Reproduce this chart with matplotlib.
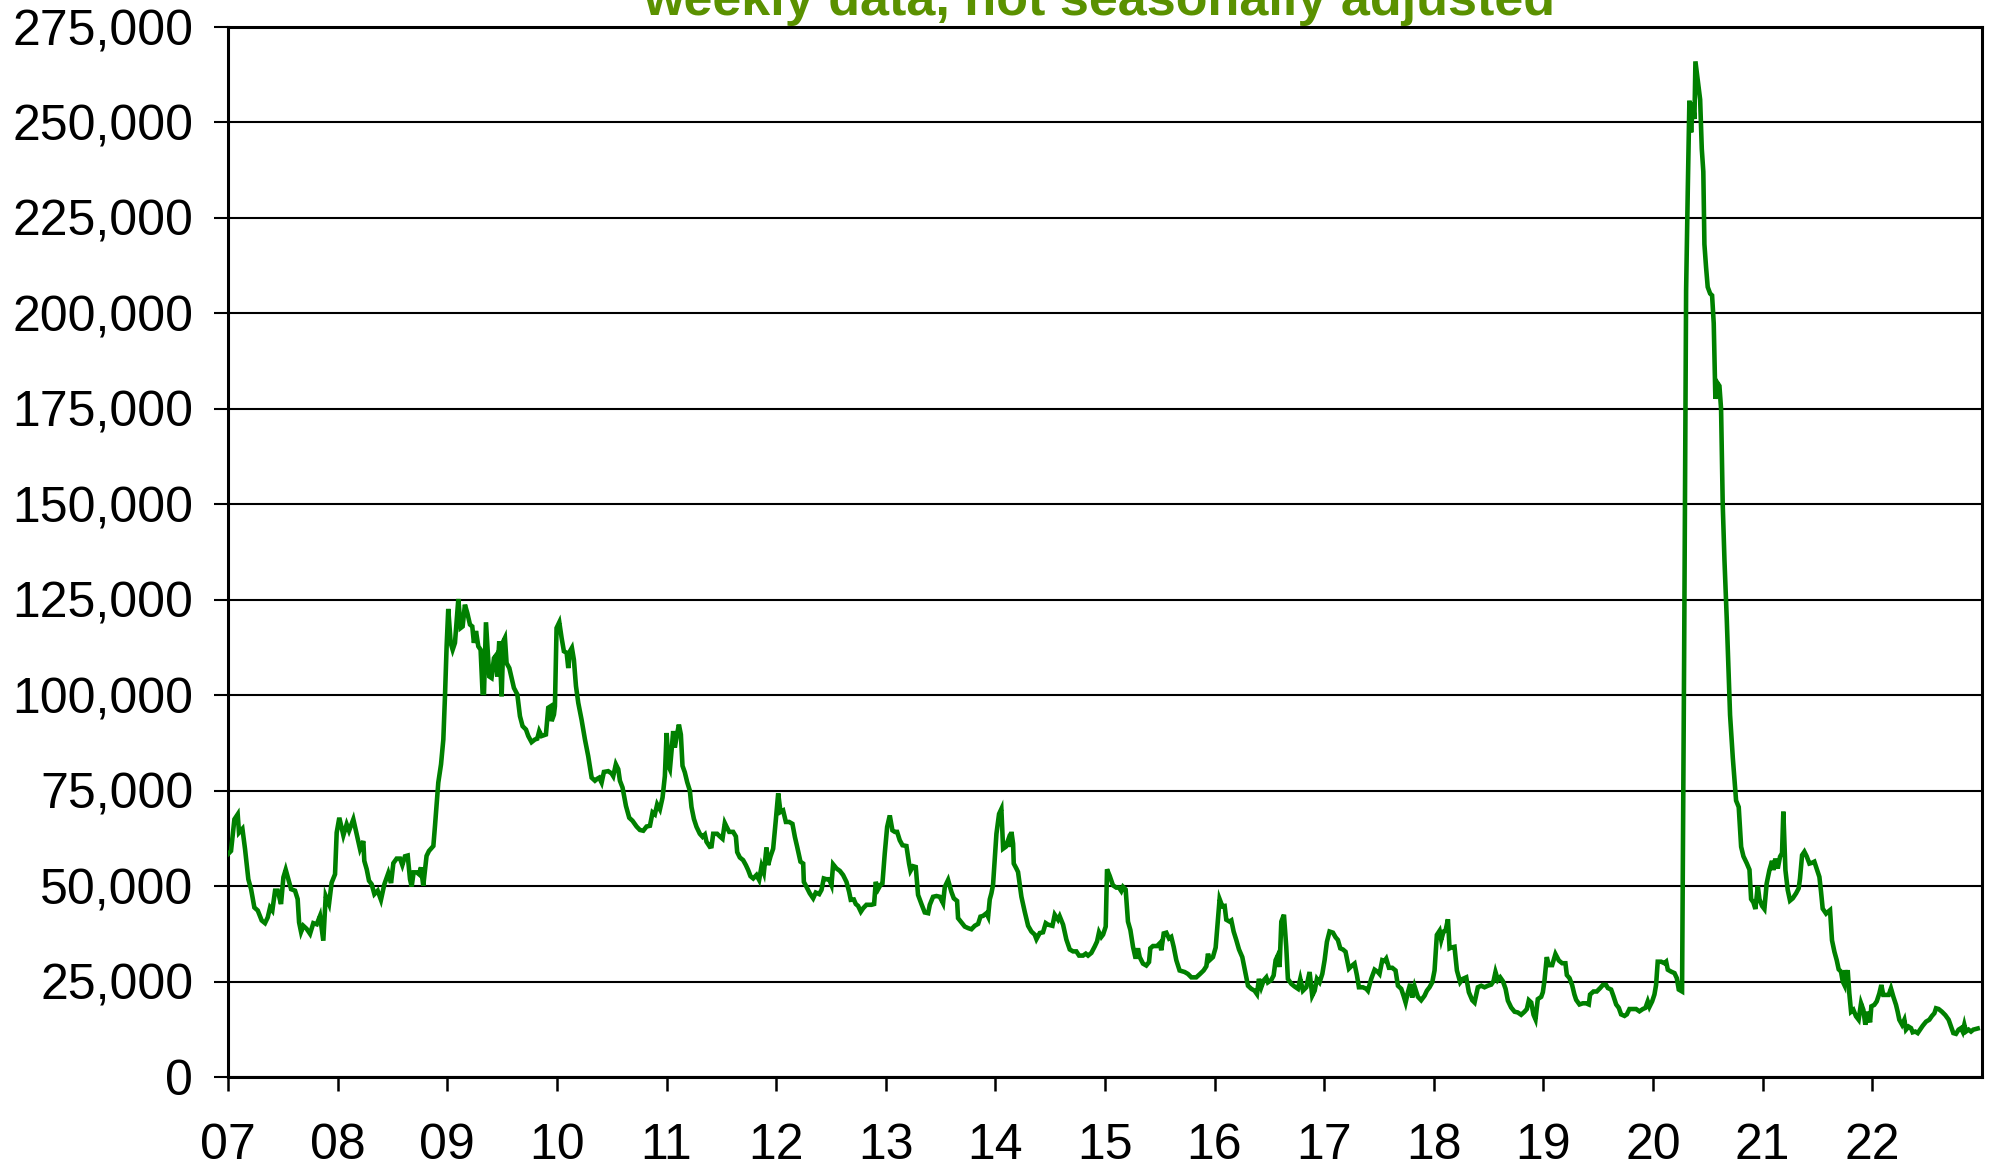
import matplotlib
matplotlib.use("Agg")
import matplotlib.pyplot as plt
from matplotlib.ticker import FuncFormatter, FixedLocator
import numpy as np

plt.rcParams['font.family'] = ['Liberation Sans', 'DejaVu Sans']

title = "weekly data, not seasonally adjusted"

# decimal year of each reading
years = [
    2007.000, 2007.027, 2007.058, 2007.088, 2007.100, 2007.131, 2007.155, 2007.185, 2007.210, 2007.240,
    2007.271, 2007.307, 2007.337, 2007.362, 2007.383, 2007.404, 2007.429, 2007.453, 2007.483, 2007.505,
    2007.526, 2007.550, 2007.575, 2007.611, 2007.635, 2007.648, 2007.666, 2007.687, 2007.717, 2007.748,
    2007.778, 2007.809, 2007.839, 2007.869, 2007.891, 2007.921, 2007.945, 2007.976, 2007.991, 2008.015,
    2008.052, 2008.082, 2008.104, 2008.143, 2008.173, 2008.204, 2008.234, 2008.243, 2008.265, 2008.286,
    2008.310, 2008.335, 2008.365, 2008.395, 2008.426, 2008.462, 2008.487, 2008.508, 2008.538, 2008.569,
    2008.590, 2008.614, 2008.639, 2008.660, 2008.675, 2008.693, 2008.721, 2008.742, 2008.760, 2008.781,
    2008.811, 2008.833, 2008.873, 2008.888, 2008.918, 2008.943, 2008.964, 2008.979, 2008.994, 2009.009,
    # 2009-2010
    2009.031, 2009.049, 2009.070, 2009.101, 2009.122, 2009.140, 2009.161, 2009.183, 2009.207, 2009.228,
    2009.243, 2009.262, 2009.283, 2009.304, 2009.322, 2009.335, 2009.353, 2009.383, 2009.404, 2009.426,
    2009.444, 2009.456, 2009.474, 2009.487, 2009.496, 2009.511, 2009.526, 2009.541, 2009.566, 2009.587,
    2009.608, 2009.639, 2009.663, 2009.687, 2009.718, 2009.739, 2009.769, 2009.800, 2009.821, 2009.839,
    2009.861, 2009.900, 2009.921, 2009.943, 2009.952, 2009.973, 2009.982, 2009.997, 2010.022, 2010.043,
    2010.064, 2010.089, 2010.104, 2010.119, 2010.137, 2010.155, 2010.174, 2010.195, 2010.225, 2010.256,
    2010.286, 2010.317, 2010.347, 2010.368, 2010.386, 2010.408, 2010.429, 2010.468, 2010.499, 2010.514,
    2010.538, 2010.560, 2010.575, 2010.599, 2010.630, 2010.660, 2010.690, 2010.727, 2010.757, 2010.788,
    2010.818, 2010.849, 2010.873, 2010.894, 2010.915, 2010.940, 2010.964, 2010.985, 2011.001, 2011.019,
    # 2011-2014
    2011.031, 2011.046, 2011.061, 2011.076, 2011.091, 2011.113, 2011.131, 2011.146, 2011.167, 2011.189,
    2011.213, 2011.228, 2011.250, 2011.274, 2011.304, 2011.329, 2011.350, 2011.365, 2011.395, 2011.411,
    2011.426, 2011.462, 2011.487, 2011.511, 2011.532, 2011.547, 2011.572, 2011.608, 2011.633, 2011.645,
    2011.669, 2011.699, 2011.724, 2011.745, 2011.766, 2011.791, 2011.821, 2011.845, 2011.867, 2011.888,
    2011.912, 2011.927, 2011.949, 2011.973, 2011.997, 2012.019, 2012.040, 2012.064, 2012.089, 2012.119,
    2012.149, 2012.171, 2012.192, 2012.222, 2012.247, 2012.253, 2012.277, 2012.307, 2012.338, 2012.362,
    2012.393, 2012.414, 2012.435, 2012.459, 2012.484, 2012.505, 2012.520, 2012.551, 2012.581, 2012.611,
    2012.642, 2012.666, 2012.681, 2012.709, 2012.727, 2012.748, 2012.773, 2012.794, 2012.824, 2012.870,
    2012.894, 2012.909, 2012.931, 2012.952, 2012.970, 2012.991, 2013.013, 2013.037, 2013.061, 2013.083,
    2013.104, 2013.128, 2013.153, 2013.189, 2013.213, 2013.226, 2013.250, 2013.274, 2013.295, 2013.326,
    2013.356, 2013.387, 2013.402, 2013.432, 2013.463, 2013.493, 2013.523, 2013.539, 2013.569, 2013.599,
    2013.621, 2013.651, 2013.660, 2013.691, 2013.721, 2013.751, 2013.782, 2013.812, 2013.843, 2013.864,
    2013.888, 2013.919, 2013.934, 2013.949, 2013.964, 2013.979, 2014.010, 2014.034, 2014.055, 2014.071,
    2014.095, 2014.116, 2014.131, 2014.147, 2014.162, 2014.168, 2014.192, 2014.207, 2014.238, 2014.268,
    2014.299, 2014.329, 2014.359, 2014.375, 2014.405, 2014.435, 2014.460, 2014.481, 2014.521, 2014.542,
    2014.572, 2014.587, 2014.618, 2014.648, 2014.679, 2014.709, 2014.739, 2014.764, 2014.800, 2014.825,
    2014.846, 2014.876, 2014.907, 2014.928, 2014.946, 2014.967, 2014.983, 2015.007, 2015.019,
    # 2015-2018
    2015.043, 2015.073, 2015.104, 2015.128, 2015.149, 2015.165, 2015.189, 2015.210, 2015.232, 2015.256,
    2015.280, 2015.301, 2015.317, 2015.347, 2015.377, 2015.402, 2015.414, 2015.438, 2015.475, 2015.499,
    2015.514, 2015.536, 2015.560, 2015.584, 2015.605, 2015.627, 2015.651, 2015.681, 2015.727, 2015.757,
    2015.788, 2015.833, 2015.864, 2015.900, 2015.925, 2015.940, 2015.955, 2015.985, 2016.010, 2016.031,
    2016.046, 2016.071, 2016.092, 2016.107, 2016.137, 2016.153, 2016.174, 2016.198, 2016.223, 2016.253,
    2016.274, 2016.305, 2016.335, 2016.365, 2016.387, 2016.405, 2016.426, 2016.448, 2016.472, 2016.487,
    2016.517, 2016.539, 2016.557, 2016.578, 2016.593, 2016.609, 2016.633, 2016.654, 2016.669, 2016.700,
    2016.730, 2016.761, 2016.782, 2016.806, 2016.837, 2016.867, 2016.891, 2016.913, 2016.934, 2016.958,
    2016.983, 2017.004, 2017.025, 2017.049, 2017.080, 2017.104, 2017.125, 2017.147, 2017.171, 2017.195,
    2017.226, 2017.247, 2017.277, 2017.299, 2017.317, 2017.353, 2017.384, 2017.399, 2017.429, 2017.460,
    2017.490, 2017.505, 2017.530, 2017.551, 2017.566, 2017.591, 2017.621, 2017.651, 2017.673, 2017.703,
    2017.724, 2017.743, 2017.764, 2017.785, 2017.803, 2017.825, 2017.855, 2017.885, 2017.916, 2017.937,
    2017.961, 2017.986, 2018.007, 2018.028, 2018.053, 2018.068, 2018.089, 2018.107, 2018.129, 2018.144,
    2018.159, 2018.189, 2018.211, 2018.241, 2018.265, 2018.296, 2018.320, 2018.351, 2018.372, 2018.402,
    2018.433, 2018.463, 2018.493, 2018.524, 2018.545, 2018.563, 2018.585, 2018.606, 2018.630, 2018.655,
    2018.676, 2018.706, 2018.737, 2018.767, 2018.797, 2018.828, 2018.849, 2018.867, 2018.889, 2018.910,
    2018.928, 2018.949, 2018.980, 2018.995, 2019.010, 2019.031,
    # 2019-2020
    2019.049, 2019.080, 2019.110, 2019.141, 2019.171, 2019.201, 2019.214, 2019.238, 2019.262, 2019.283,
    2019.299, 2019.329, 2019.360, 2019.390, 2019.414, 2019.426, 2019.457, 2019.487, 2019.518, 2019.542,
    2019.572, 2019.588, 2019.618, 2019.639, 2019.664, 2019.688, 2019.709, 2019.740, 2019.761, 2019.785,
    2019.816, 2019.846, 2019.876, 2019.907, 2019.931, 2019.952, 2019.968, 2019.992, 2020.013, 2020.028,
    2020.043, 2020.074, 2020.104, 2020.120, 2020.135, 2020.165, 2020.196, 2020.217, 2020.235, 2020.265,
    2020.284, 2020.302, 2020.317, 2020.332, 2020.348, 2020.363, 2020.378, 2020.387, 2020.408, 2020.430,
    2020.445, 2020.459, 2020.469, 2020.484, 2020.499, 2020.521, 2020.539, 2020.554, 2020.569, 2020.585,
    2020.606, 2020.621, 2020.636, 2020.652, 2020.673, 2020.691, 2020.703, 2020.728, 2020.758, 2020.782,
    2020.804, 2020.825, 2020.855, 2020.880, 2020.895, 2020.916, 2020.934, 2020.956, 2020.971, 2020.995,
    2021.016,
    # 2021-2022
    2021.037, 2021.062, 2021.086, 2021.098, 2021.116, 2021.138, 2021.159, 2021.177, 2021.189, 2021.208,
    2021.229, 2021.250, 2021.275, 2021.305, 2021.329, 2021.341, 2021.360, 2021.381, 2021.402, 2021.427,
    2021.451, 2021.472, 2021.493, 2021.518, 2021.533, 2021.548, 2021.579, 2021.594, 2021.615, 2021.633,
    2021.655, 2021.676, 2021.694, 2021.715, 2021.731, 2021.746, 2021.755, 2021.767, 2021.776, 2021.791,
    2021.807, 2021.828, 2021.852, 2021.876, 2021.898, 2021.919, 2021.937, 2021.959, 2021.980, 2021.992,
    2022.019, 2022.041, 2022.065, 2022.083, 2022.101, 2022.126, 2022.150, 2022.171, 2022.193, 2022.217,
    2022.232, 2022.247, 2022.272, 2022.293, 2022.308, 2022.332, 2022.354, 2022.369, 2022.393, 2022.415,
    2022.436, 2022.460, 2022.491, 2022.521, 2022.545, 2022.567, 2022.582, 2022.606, 2022.636, 2022.667,
    2022.697, 2022.719, 2022.740, 2022.764, 2022.788, 2022.810, 2022.825, 2022.840, 2022.855, 2022.879,
    2022.901, 2022.922, 2022.947, 2022.962,
]

# initial claims, thousands
claims_k = [
    58.4, 59.2, 67.5, 68.8, 64.0, 65.0, 59.7, 51.8, 49.2, 44.4,
    43.6, 41.0, 40.3, 41.8, 44.4, 43.6, 48.8, 48.8, 45.3, 52.3,
    54.3, 51.8, 49.2, 48.8, 46.6, 40.5, 38.0, 39.6, 38.8, 37.5,
    40.3, 40.0, 42.2, 35.7, 47.4, 45.3, 50.9, 53.1, 64.0, 67.9,
    63.3, 66.2, 64.5, 67.5, 63.6, 59.7, 61.8, 56.6, 54.4, 51.4,
    50.5, 47.9, 48.8, 46.4, 50.5, 53.4, 50.8, 56.0, 57.2, 57.2,
    55.5, 57.8, 58.0, 51.8, 49.9, 53.6, 53.6, 53.1, 54.9, 50.1,
    57.9, 59.2, 60.5, 65.8, 77.1, 81.9, 88.4, 99.7, 112.8, 122.6,
    # 2009-2010
    113.7, 111.9, 113.7, 125.2, 117.6, 118.0, 123.7, 121.5, 118.5, 118.0,
    113.7, 116.8, 112.8, 111.9, 100.6, 100.6, 119.1, 104.9, 104.5, 109.7,
    110.4, 104.9, 114.1, 105.4, 99.7, 114.1, 115.0, 108.4, 107.1, 104.5,
    101.9, 100.2, 94.5, 91.9, 91.0, 89.3, 87.7, 88.4, 88.6, 90.6,
    89.3, 89.7, 96.7, 97.1, 93.2, 94.9, 97.1, 117.6, 119.1, 115.0,
    111.5, 111.1, 107.1, 111.5, 112.4, 109.3, 102.4, 98.0, 93.6, 88.4,
    84.0, 78.4, 77.6, 78.1, 78.4, 77.1, 79.9, 80.1, 79.5, 78.8,
    81.9, 80.6, 77.6, 75.8, 71.0, 67.9, 67.1, 65.6, 64.7, 64.5,
    65.6, 65.8, 69.3, 68.8, 71.4, 70.1, 73.2, 78.8, 90.1, 81.4,
    # 2011-2014
    80.6, 85.4, 90.6, 86.3, 88.9, 92.3, 89.7, 81.5, 79.8, 77.2,
    75.0, 70.7, 67.6, 65.5, 63.7, 62.9, 63.5, 61.6, 60.3, 60.4,
    63.7, 63.7, 63.0, 62.4, 66.5, 65.6, 64.2, 64.2, 63.0, 58.9,
    57.5, 56.8, 55.5, 54.2, 52.6, 52.0, 52.9, 51.6, 55.2, 53.5,
    60.1, 55.5, 57.8, 59.8, 67.2, 74.3, 69.4, 69.8, 66.8, 66.8,
    66.3, 62.9, 60.3, 56.4, 55.9, 51.1, 49.8, 48.1, 46.8, 48.3,
    47.9, 49.0, 52.0, 51.8, 51.8, 50.3, 55.7, 54.6, 54.0, 52.9,
    51.1, 48.5, 46.4, 46.5, 45.3, 44.8, 43.3, 44.2, 45.1, 45.1,
    45.3, 51.1, 49.2, 50.3, 50.7, 58.5, 65.5, 68.5, 64.6, 64.2,
    64.2, 62.0, 60.7, 60.5, 55.9, 54.0, 55.2, 55.0, 47.7, 45.3,
    43.1, 42.9, 45.1, 47.2, 47.4, 47.2, 45.5, 49.8, 51.6, 48.5,
    46.8, 46.1, 41.6, 40.5, 39.4, 39.0, 38.7, 39.6, 40.1, 42.0,
    42.2, 42.9, 42.0, 46.5, 48.1, 50.3, 63.7, 68.9, 70.2, 59.8,
    60.3, 62.0, 60.3, 64.2, 61.1, 55.9, 54.6, 53.7, 47.2, 43.3,
    39.6, 38.1, 37.3, 36.1, 37.7, 37.9, 40.3, 39.9, 39.6, 42.5,
    41.2, 42.1, 39.9, 36.0, 33.4, 32.9, 32.9, 31.8, 31.8, 32.3,
    31.8, 32.5, 34.2, 35.5, 37.9, 36.7, 37.3, 39.4, 54.4,
    # 2015-2018
    52.7, 50.2, 49.6, 49.6, 48.7, 49.8, 49.1, 40.7, 38.5, 34.1,
    31.0, 33.7, 31.4, 29.7, 29.2, 30.1, 33.7, 34.3, 34.3, 35.0,
    33.2, 37.6, 37.8, 36.3, 36.7, 34.1, 30.6, 27.9, 27.5, 27.0,
    26.1, 26.1, 26.9, 27.9, 29.0, 32.3, 30.6, 31.4, 33.9, 41.2,
    46.6, 44.7, 44.8, 41.2, 40.7, 41.0, 38.1, 35.9, 33.4, 31.4,
    28.4, 23.9, 23.1, 22.6, 21.7, 25.7, 23.5, 25.3, 26.1, 24.8,
    25.4, 26.6, 30.6, 31.9, 28.8, 40.7, 42.5, 34.1, 25.7, 24.4,
    23.7, 23.1, 25.7, 22.6, 23.5, 27.5, 21.3, 22.6, 25.7, 24.8,
    27.0, 30.6, 35.4, 38.1, 37.8, 36.6, 35.9, 33.7, 33.4, 32.8,
    28.4, 29.0, 29.7, 26.6, 23.5, 23.5, 23.1, 22.6, 25.7, 28.1,
    27.5, 27.0, 30.6, 30.4, 31.0, 28.6, 28.6, 27.9, 23.9, 23.1,
    21.3, 19.5, 22.2, 24.4, 20.8, 23.7, 21.0, 20.1, 21.3, 22.6,
    23.5, 24.8, 27.9, 37.2, 38.3, 35.9, 38.1, 38.3, 41.3, 33.7,
    33.9, 34.1, 27.9, 24.8, 25.7, 26.1, 22.2, 20.1, 19.5, 23.5,
    23.9, 23.5, 23.9, 24.2, 25.1, 27.5, 25.4, 26.1, 25.1, 23.1,
    20.0, 18.2, 17.1, 16.9, 16.3, 17.1, 17.8, 20.1, 19.5, 16.3,
    15.1, 20.4, 21.0, 22.2, 25.3, 31.4,
    # 2019-2020
    29.3, 29.3, 32.2, 30.5, 29.8, 29.8, 26.7, 25.9, 24.1, 21.6,
    20.2, 19.0, 19.3, 19.3, 19.0, 21.6, 22.4, 22.4, 23.3, 24.1,
    24.1, 23.3, 22.9, 21.2, 19.0, 18.1, 16.4, 16.0, 16.4, 17.8,
    17.8, 17.8, 17.2, 17.8, 18.1, 19.8, 18.4, 19.8, 21.6, 24.1,
    30.2, 30.2, 29.8, 30.2, 28.1, 27.6, 27.2, 25.9, 22.9, 22.4,
    110.0, 206.0, 231.9, 255.7, 247.4, 255.2, 250.9, 266.0, 261.2, 256.0,
    243.1, 237.1, 218.1, 212.1, 206.9, 205.2, 204.7, 197.4, 177.6, 181.9,
    181.0, 175.0, 150.0, 135.3, 119.8, 105.2, 94.8, 83.6, 72.4, 70.7,
    60.3, 57.8, 56.0, 54.3, 46.6, 45.7, 44.0, 50.0, 46.6, 44.8,
    44.0,
    # 2021-2022
    50.7, 54.2, 56.6, 54.2, 57.2, 54.6, 57.7, 58.6, 69.5, 54.2,
    49.0, 46.2, 46.8, 48.1, 49.4, 52.0, 58.1, 59.0, 57.8, 55.9,
    56.1, 56.4, 54.6, 52.4, 48.5, 44.1, 42.8, 43.2, 43.7, 35.8,
    32.8, 30.6, 28.2, 27.6, 25.0, 24.1, 28.0, 25.0, 28.0, 21.9,
    17.1, 17.6, 15.9, 15.0, 19.3, 17.6, 13.7, 17.1, 14.3, 18.5,
    18.9, 19.8, 21.9, 24.1, 21.5, 21.5, 21.5, 23.2, 21.0, 18.9,
    17.1, 15.0, 13.7, 15.0, 12.4, 13.2, 12.8, 11.7, 11.9, 11.5,
    12.4, 13.4, 14.5, 15.0, 16.0, 16.7, 18.0, 17.8, 17.1, 16.2,
    15.0, 13.2, 11.5, 11.3, 12.4, 12.8, 11.9, 13.7, 11.9, 12.4,
    11.9, 12.4, 12.6, 12.7,
]

year_ticks = list(range(2007, 2023))
year_labels = ["07", "08", "09", "10", "11", "12", "13", "14",
               "15", "16", "17", "18", "19", "20", "21", "22"]
y_ticks = [0, 25000, 50000, 75000, 100000, 125000, 150000,
           175000, 200000, 225000, 250000, 275000]

claims = np.array(claims_k) * 1000.0
x = np.array(years)

fig = plt.figure(figsize=(19.90, 11.69), dpi=100)
ax = fig.add_axes([0.1146, 0.0787, 0.9959 - 0.1146, 0.9769 - 0.0787])

ax.plot(x, claims, color="#008000", lw=3.3, solid_joinstyle="miter", zorder=3)

ax.set_xlim(2007, 2023)
ax.set_ylim(0, 275000)

ax.yaxis.set_major_locator(FixedLocator(y_ticks))
ax.yaxis.set_major_formatter(FuncFormatter(lambda v, p: f"{int(round(v)):,}"))
ax.xaxis.set_major_locator(FixedLocator(year_ticks))
ax.set_xticklabels(year_labels)

ax.grid(axis="y", color="black", lw=1.5, zorder=1)
ax.set_axisbelow(True)

for s in ax.spines.values():
    s.set_linewidth(2.2)
    s.set_color("black")

ax.tick_params(axis="y", direction="out", length=10, width=1.5, pad=15,
               labelsize=36, colors="black")
ax.tick_params(axis="x", direction="out", length=10, width=1.8, pad=23,
               labelsize=36, colors="black")

fig.text(0.5523, 0.9872, title, ha="center", va="baseline",
         fontsize=37.5, fontweight="bold", color="#5a9100")

fig.savefig("out.png", dpi=100)
